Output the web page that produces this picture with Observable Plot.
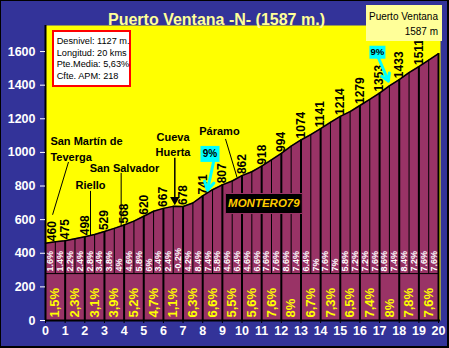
<!DOCTYPE html>
<html>
<head>
<meta charset="utf-8">
<script src="https://cdn.jsdelivr.net/npm/d3@7"></script>
<script src="https://cdn.jsdelivr.net/npm/@observablehq/plot@0.6"></script>
<style>
html,body{margin:0;padding:0;background:#333399;}
#wrap{position:relative;width:449px;height:348px;background:#333399;overflow:hidden;font-family:"Liberation Sans",Arial,sans-serif;}
#wrap svg{position:absolute;left:0;top:0;}
#title{position:absolute;left:0;top:11.5px;width:433px;text-align:center;font-size:16px;line-height:16px;font-weight:bold;color:#FFFF99;white-space:nowrap;}
#legend{position:absolute;left:366px;top:5px;width:76px;height:36px;background:#FFFF99;font-size:10px;line-height:12px;color:#000;}
#legend .l1{position:absolute;left:3px;top:6px;white-space:nowrap;}
#legend .l2{position:absolute;right:4px;top:21px;white-space:nowrap;}
#info{position:absolute;left:52px;top:30px;width:79px;height:57px;box-sizing:border-box;border:2px solid #FF0000;background:#fff;font-size:9.2px;line-height:11.5px;color:#000;padding:4px 0 0 2.7px;white-space:nowrap;}
#border{position:absolute;left:0;top:0;width:449px;height:348px;box-sizing:border-box;border-left:1px solid #000;border-top:1px solid #000;border-right:2px solid #000;border-bottom:2px solid #000;pointer-events:none;}
</style>
</head>
<body>
<div id="wrap"></div>
<script>
// ---- data ----
const kmMarks = [0,1,2,3,4,5,6,7,8,9,10,11,12,13,14,15,16,17,18,19,20];
const kmAltitudes = [460,475,498,529,568,620,667,678,741,807,862,918,994,1074,1141,1214,1279,1353,1433,1511,1587];
const halfKm = [0.5,1.5,2.5,3.5,4.5,5.5,6.5,7.5,8.5,9.5,10.5,11.5,12.5,13.5,14.5,15.5,16.5,17.5,18.5,19.5];
const halfAltitudes = [468,486,512,548,591,650,679,699,778,830,885,956,1037,1106,1179,1243,1315,1396,1475,1549];
const halfGrades = ["1.6","1.4","2.2","2.4","2.8","3.4","3.8","4","4.6","5.8","6","3.4","2.4","-0.2","4.2","8.4","7.4","5.8","4.6","6.4","4.6","6.6","7.6","7.6","8.6","7.4","6.4","7","7.6","7","5.8","7.2","7.2","7.6","8.6","7.4","8.4","7.2","7.6","7.6"];
const kmGrades = ["1,5","2,3","3,1","3,9","5,2","4,7","1,1","6,3","6,6","5,5","5,6","7,6","8","6,7","7,3","6,5","7,4","8","7,8","7,6"];
const yTicks = [0,200,400,600,800,1000,1200,1400,1600];

// place annotations (km, altitude)
const placeNames = ["San Martín de\nTeverga","Riello","San Salvador","Cueva\nHuerta","Páramo"];
const placeKm = [0.25, 2.29, 4.02, 6.49, 8.85];
const placeAlt = [1026, 813, 914, 1053, 1133];
const leaderFromKm = [1.17, 2.29, 3.85, 9.16];
const leaderFromAlt = [943, 771, 878, 1080];
const leaderToKm = [0.36, 2.29, 3.85, 9.75];
const leaderToAlt = [629, 506, 564, 850];
const caveArrowKm = [6.58];
const caveArrowFromAlt = [968];
const caveArrowToAlt = [718];
const steepLabels = ["9%","9%"];
const steepBoxKm = [8.37, 16.89];
const steepBoxAlt = [991, 1596];
const steepTailKm = [8.55, 16.95];
const steepTailAlt = [943, 1560];
const steepTipKm = [8.24, 17.45];
const steepTipAlt = [775, 1424];
const signature = ["MONTERO79"];
const signatureKm = [11.11];
const signatureAlt = [696];
const separatorAlt = [279];

// ---- tables ----
const profile = [];
kmMarks.forEach((k, i) => {
  profile.push({km: k, alt: kmAltitudes[i]});
  if (i < halfKm.length) profile.push({km: halfKm[i], alt: halfAltitudes[i]});
});
const halfSegs = halfGrades.map((g, i) => ({km: profile[i].km + 0.25, label: g + "%"}));
const kmSegs = kmGrades.map((g, i) => ({km: kmMarks[i] + 0.5, label: g + "%"}));
const altLabels = kmAltitudes.slice(0, 20).map((a, i) => ({km: kmMarks[i], alt: a, label: String(a)}));
const kmLines = kmMarks.slice(1).map((k, i) => ({km: k, alt: kmAltitudes[i + 1]}));
const halfLines = halfKm.map((k, i) => ({km: k, alt: halfAltitudes[i]}));
const places = placeNames.map((n, i) => ({name: n, km: placeKm[i], alt: placeAlt[i]}));
const leaders = leaderFromKm.map((k, i) => ({x1: k, y1: leaderFromAlt[i], x2: leaderToKm[i], y2: leaderToAlt[i]}));
const cave = caveArrowKm.map((k, i) => ({km: k, a1: caveArrowFromAlt[i], a2: caveArrowToAlt[i]}));
const steep = steepLabels.map((t, i) => ({t, km: steepBoxKm[i], alt: steepBoxAlt[i], x1: steepTailKm[i], y1: steepTailAlt[i], x2: steepTipKm[i], y2: steepTipAlt[i]}));
const sig = signature.map((t, i) => ({t, km: signatureKm[i], alt: signatureAlt[i]}));

const rectSymbol = (w, h) => ({draw(ctx) { ctx.rect(-w / 2, -h / 2, w, h); }});
const font = "'Liberation Sans', Arial, sans-serif";

const chart = Plot.plot({
  width: 449,
  height: 348,
  marginLeft: 45,
  marginRight: 9,
  marginTop: 25,
  marginBottom: 28,
  style: {background: "transparent", fontFamily: font, overflow: "visible"},
  x: {domain: [0, 20.1]},
  y: {domain: [0, 1755]},
  marks: [
    Plot.frame({fill: "#FFFF00", stroke: null}),
    Plot.areaY(profile, {x: "km", y: "alt", fill: "#993366"}),
    Plot.ruleY(separatorAlt, {x1: 0, x2: 20, stroke: "black", strokeWidth: 1}),
    Plot.ruleX(halfLines, {x: "km", y1: separatorAlt[0], y2: "alt", stroke: "black", strokeWidth: 1}),
    Plot.ruleX(kmLines, {x: "km", y1: 0, y2: "alt", stroke: "black", strokeWidth: 2}),
    Plot.lineY(profile, {x: "km", y: "alt", stroke: "black", strokeWidth: 1.5}),
    Plot.text(halfSegs, {x: "km", y: separatorAlt[0], text: "label", rotate: -90, textAnchor: "start", dy: -2, fill: "white", fontSize: 9, fontWeight: "bold"}),
    Plot.text(kmSegs, {x: "km", y: 0, text: "label", rotate: -90, textAnchor: "start", dy: -3, fill: "#FFFF00", fontSize: 13, fontWeight: "bold"}),
    Plot.text(altLabels.slice(0, 1), {x: "km", y: "alt", text: "label", rotate: -90, textAnchor: "start", dy: -2, dx: 7, fill: "black", fontSize: 12, fontWeight: "bold"}),
    Plot.text(altLabels.slice(1), {x: "km", y: "alt", text: "label", rotate: -90, textAnchor: "start", dy: -1.5, dx: 0, fill: "black", fontSize: 12, fontWeight: "bold"}),
    // place names
    Plot.text(places.slice(0, 1), {x: "km", y: "alt", text: "name", textAnchor: "start", lineHeight: 1.45, fill: "black", fontSize: 11, fontWeight: "bold"}),
    Plot.text(places.slice(1), {x: "km", y: "alt", text: "name", textAnchor: "middle", lineHeight: 1.36, fill: "black", fontSize: 11, fontWeight: "bold"}),
    Plot.link(leaders, {x1: "x1", y1: "y1", x2: "x2", y2: "y2", stroke: "black", strokeWidth: 1}),
    Plot.link(cave, {x1: "km", y1: "a1", x2: "km", y2: "a2", stroke: "black", strokeWidth: 1.5}),
    Plot.dot(cave, {x: "km", y: "a2", symbol: "triangle", rotate: 180, r: 3.5, fill: "black", stroke: null}),
    // steep annotations
    Plot.arrow(steep, {x1: "x1", y1: "y1", x2: "x2", y2: "y2", stroke: "#00FFFF", strokeWidth: 3, headLength: 7}),
    Plot.dot(steep.slice(0, 1), {x: "km", y: "alt", symbol: rectSymbol(19, 16), fill: "#00FFFF", stroke: null}),
    Plot.dot(steep.slice(1), {x: "km", y: "alt", symbol: rectSymbol(16, 13), fill: "#00FFFF", stroke: null}),
    Plot.text(steep.slice(0, 1), {x: "km", y: "alt", text: "t", fill: "black", fontSize: 10, fontWeight: "bold"}),
    Plot.text(steep.slice(1), {x: "km", y: "alt", text: "t", fill: "black", fontSize: 9.5, fontWeight: "bold"}),
    // signature
    Plot.dot(sig, {x: "km", y: "alt", symbol: rectSymbol(77, 20), fill: "black", stroke: "#993366", strokeWidth: 1}),
    Plot.text(sig, {x: "km", y: "alt", text: "t", fill: "#FFCC00", fontSize: 11.5, fontWeight: "bold", fontStyle: "italic"}),
    // axes
    Plot.ruleX([0], {stroke: "black", strokeWidth: 2}),
    Plot.ruleY([0], {stroke: "black", strokeWidth: 2}),
    Plot.axisY({ticks: yTicks, tickFormat: d => String(d), tickSize: 5, tickPadding: 5, fontSize: 12.5, fontWeight: "bold", color: "white"}),
    Plot.axisX({ticks: kmMarks, tickFormat: d => String(d), tickSize: 3, tickPadding: 3, fontSize: 12.5, fontWeight: "bold", color: "white", stroke: "black"})
  ]
});

const wrap = document.getElementById("wrap");
wrap.appendChild(chart);
const title = document.createElement("div");
title.id = "title";
title.textContent = "Puerto Ventana -N- (1587 m.)";
wrap.appendChild(title);
const legend = document.createElement("div");
legend.id = "legend";
legend.innerHTML = '<span class="l1">Puerto Ventana</span><span class="l2">1587 m</span>';
wrap.appendChild(legend);
const info = document.createElement("div");
info.id = "info";
info.innerHTML = "Desnivel: 1127 m.<br>Longitud: 20 kms<br>Pte.Media: 5,63%<br>Cfte. APM: 218";
wrap.appendChild(info);
const border = document.createElement("div");
border.id = "border";
wrap.appendChild(border);
</script>
</body>
</html>
